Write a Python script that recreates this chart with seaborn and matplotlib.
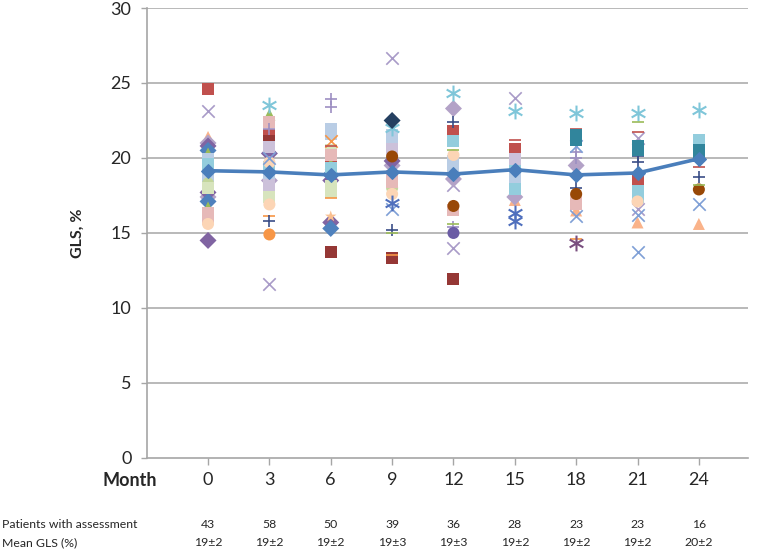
import numpy as np
import pandas as pd
import matplotlib
matplotlib.use("Agg")
import matplotlib.pyplot as plt
import matplotlib.transforms as mtransforms
import seaborn as sns

# --- data ---
MONTHS = [0, 3, 6, 9, 12, 15, 18, 21, 24]
MEAN_GLS = [19.15, 19.07, 18.87, 19.07, 18.93, 19.22, 18.87, 19.0, 19.95]
PATIENTS = [43, 58, 50, 39, 36, 28, 23, 23, 16]
MEAN_LABELS = ["19±2", "19±2", "19±2", "19±3", "19±3", "19±2", "19±2", "19±2", "20±2"]

# individual patient GLS values per visit (visible markers only)
GLS_M0 = [24.6, 23.1, 21.4, 21.0, 20.8, 20.5, 20.3, 19.9, 19.6, 18.8, 18.3, 18.0,
          17.7, 17.4, 17.1, 16.7, 16.3, 15.9, 15.6, 14.5]
GLS_M3 = [23.5, 22.9, 22.4, 21.9, 21.5, 21.1, 20.7, 20.3, 20.0, 19.7, 19.4, 18.9,
          18.5, 18.2, 17.8, 17.4, 16.9, 16.1, 15.8, 14.9, 11.6]
GLS_M6 = [23.9, 23.4, 21.9, 21.6, 21.1, 20.8, 20.5, 20.2, 19.9, 19.6, 19.3, 18.9,
          18.5, 18.1, 17.7, 17.3, 16.1, 15.7, 15.3, 13.7]
GLS_M9 = [26.7, 22.5, 22.0, 21.5, 21.0, 20.6, 20.1, 19.8, 19.5, 18.8, 18.4, 18.0,
          17.6, 17.0, 16.6, 15.2, 15.0, 13.5, 13.3]
GLS_M12 = [24.3, 23.3, 22.4, 21.8, 21.1, 20.5, 20.2, 19.8, 19.4, 18.6, 18.2, 16.8,
           16.5, 15.6, 15.4, 15.0, 14.0, 11.9]
GLS_M15 = [24.0, 23.1, 21.2, 20.6, 20.2, 19.9, 19.5, 18.7, 18.3, 17.9, 17.4, 17.2,
           16.3, 15.8]
GLS_M18 = [23.0, 21.9, 21.5, 21.2, 20.8, 20.4, 20.0, 19.5, 18.0, 17.6, 17.2, 16.9,
           16.5, 16.1, 14.6, 14.3]
GLS_M21 = [23.0, 22.4, 21.7, 21.3, 20.8, 20.5, 20.1, 19.7, 18.5, 18.3, 17.8, 17.4,
           17.1, 16.6, 16.2, 15.7, 13.7]
GLS_M24 = [23.2, 21.2, 20.5, 20.2, 19.8, 19.4, 18.7, 18.2, 17.9, 16.9, 15.6]

# marker style code for each point above (see STYLES)
STY_M0 = "SXTmDdGLBLgEDmdGKKOD"
STY_M3 = "AGKPSQVDxOBLmVEEOopCX"
STY_M6 = "PPLLyrEKSGBdDEEohDdQ"
STY_M9 = "XkALLVcDmKKgOaxpeoQ"
STY_M12 = "AmpSBeOLLmXcKePuXQ"
STY_M15 = "XArSSVBLLBmTaa"
STY_M18 = "ArMMxPPmpcKKTxoz"
STY_M21 = "AerXMMppSrBBOXxTx"
STY_M24 = "ABMMprpecxT"

STYLES = {
    "S": ("s", "#C0504D"), "Q": ("s", "#953735"), "X": ("x", "#A99BC8"),
    "x": ("x", "#7F9FD6"), "A": ("$\\ast$", "#7FC6D9"), "a": ("$\\ast$", "#4F6FBD"),
    "z": ("$\\ast$", "#7A4F7F"), "D": ("D", "#8064A2"), "d": ("D", "#4F81BD"),
    "k": ("D", "#254061"), "m": ("D", "#B3A2C7"), "T": ("^", "#FAB38A"),
    "G": ("^", "#9BBB59"), "C": ("o", "#F79646"), "c": ("o", "#984807"),
    "u": ("o", "#6B5CA5"), "g": ("o", "#C3D69B"), "O": ("o", "#FCD5B5"),
    "P": ("+", "#9D8FC2"), "p": ("+", "#3B4E87"), "L": ("s", "#B9CDE5"),
    "K": ("s", "#E6B9B8"), "E": ("s", "#D7E4BD"), "V": ("s", "#CCC1DA"),
    "B": ("s", "#93CDDD"), "M": ("s", "#31859C"), "r": ("_", "#C0504D"),
    "e": ("_", "#9BBB59"), "o": ("_", "#F79646"), "h": ("*", "#FAC090"),
    "y": ("x", "#F79646"),
}

all_vals = [GLS_M0, GLS_M3, GLS_M6, GLS_M9, GLS_M12, GLS_M15, GLS_M18, GLS_M21, GLS_M24]
all_sty = [STY_M0, STY_M3, STY_M6, STY_M9, STY_M12, STY_M15, STY_M18, STY_M21, STY_M24]

rows = []
for i, (vals, sty) in enumerate(zip(all_vals, all_sty)):
    for v, s in zip(vals, sty):
        rows.append({"pos": i, "gls": v, "style": s})
points = pd.DataFrame(rows)
means = pd.DataFrame({"pos": range(len(MONTHS)), "gls": MEAN_GLS})

# --- figure ---
sns.set_theme(style="white")
plt.rcParams["font.family"] = ["Lato", "DejaVu Sans"]

fig = plt.figure(figsize=(7.64, 5.53), dpi=100)
ax = fig.add_axes([0.192, 0.172, 0.787, 0.8135])

grid_col = "#A6A6A6"
for yv in range(5, 31, 5):
    ax.axhline(yv, color=grid_col, lw=1.1, zorder=0)

for key, grp in points.groupby("style", sort=False):
    marker, color = STYLES[key]
    size = 75
    kw = {}
    if marker in ("x", "+", "_"):
        kw["linewidth"] = 1.2
        size = 80
    elif marker.startswith("$"):
        kw["linewidth"] = 0
        size = 130
    else:
        kw["edgecolor"] = "none"
    sns.scatterplot(data=grp, x="pos", y="gls", marker=marker, color=color,
                    s=size, ax=ax, legend=False, zorder=2, **kw)

sns.lineplot(data=means, x="pos", y="gls", color="#4A7EBB", lw=2.6,
             marker="D", markersize=7.5, markeredgecolor="#4A7EBB", ax=ax, zorder=4)

ax.set_xlim(-1, 8.8)
ax.set_ylim(0, 30)
ax.set_yticks(range(0, 31, 5))
ax.set_xticks(range(len(MONTHS)))
ax.set_xticklabels([str(m) for m in MONTHS], fontsize=13)
ax.tick_params(axis="y", labelsize=13, length=4, width=1, color=grid_col,
               direction="out", left=True, pad=7)
ax.tick_params(axis="x", length=5, width=1, color=grid_col, direction="out",
               bottom=True, pad=5)
ax.set_xlabel("")
ax.set_ylabel("GLS, %", fontsize=11.5, fontweight="bold")
ax.yaxis.set_label_coords(-0.103, 0.5)

for side in ("top", "right"):
    ax.spines[side].set_visible(False)
for side in ("left", "bottom"):
    ax.spines[side].set_color(grid_col)
    ax.spines[side].set_linewidth(1.2)

fig.text(157 / 764, 1 - 481 / 553, "Month", ha="right", va="center",
         fontsize=13, fontweight="bold")

# table under the axis
trans = mtransforms.blended_transform_factory(ax.transData, fig.transFigure)
y_row1 = 1 - 525 / 553
y_row2 = 1 - 543 / 553
fig.text(0.002, y_row1, "Patients with assessment", ha="left", va="center", fontsize=8.8)
fig.text(0.002, y_row2, "Mean GLS (%)", ha="left", va="center", fontsize=8.8)
for i, (n, lab) in enumerate(zip(PATIENTS, MEAN_LABELS)):
    ax.text(i, y_row1, str(n), transform=trans, ha="center", va="center", fontsize=8.8)
    ax.text(i, y_row2, lab, transform=trans, ha="center", va="center", fontsize=8.8)

fig.savefig("out.png", dpi=100)
